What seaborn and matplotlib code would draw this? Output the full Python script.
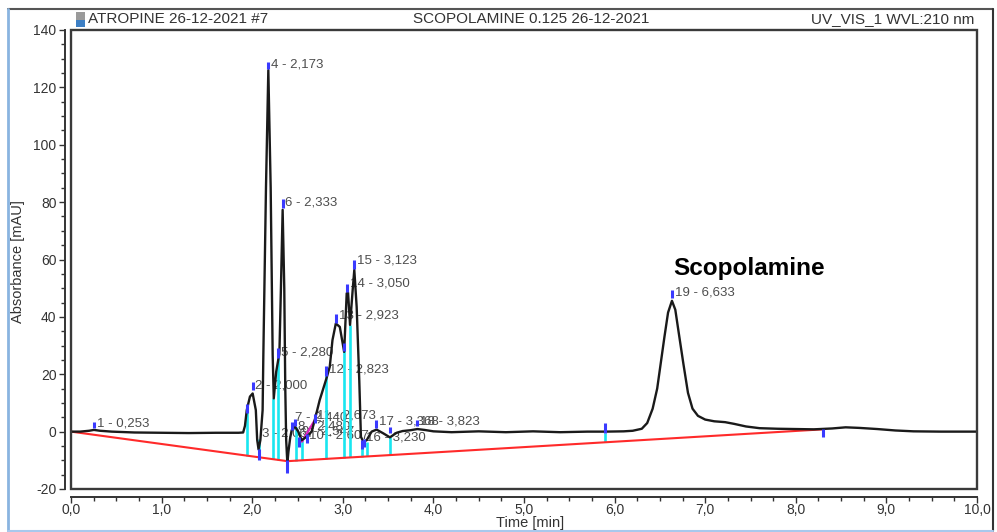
import numpy as np
import matplotlib
matplotlib.use("Agg")
import matplotlib.pyplot as plt
import seaborn as sns
from matplotlib.patches import Rectangle
from matplotlib.lines import Line2D
from matplotlib.ticker import MultipleLocator, FuncFormatter

# chromatogram trace (time [min], absorbance [mAU])
trace_time = [0.00, 0.10, 0.20, 0.253, 0.32, 0.45, 0.70, 1.00, 1.30, 1.60, 1.85,
              1.90, 1.92, 1.94, 1.975, 2.005, 2.04, 2.055, 2.07, 2.09, 2.115,
              2.123, 2.152, 2.178, 2.204, 2.226, 2.238, 2.265, 2.29, 2.30, 2.317,
              2.336, 2.354, 2.365, 2.375, 2.388, 2.40, 2.42, 2.436, 2.47, 2.51,
              2.546, 2.60, 2.656, 2.69, 2.745, 2.819, 2.856, 2.886, 2.923, 2.967,
              3.015, 3.043, 3.058, 3.08, 3.109, 3.127, 3.153, 3.182, 3.20, 3.226,
              3.263, 3.318, 3.373, 3.447, 3.52, 3.594, 3.66, 3.75, 3.823, 3.90,
              4.00, 4.20, 4.50, 4.80, 5.10, 5.40, 5.70, 5.90, 6.10, 6.20,
              6.30, 6.36, 6.42, 6.47, 6.51, 6.55, 6.59, 6.633, 6.67, 6.71,
              6.76, 6.81, 6.86, 6.92, 7.00, 7.10, 7.22, 7.32, 7.45, 7.60,
              7.80, 8.00, 8.20, 8.40, 8.55, 8.70, 8.90, 9.10, 9.30, 9.60, 10.0]
trace_abs = [0.0, 0.0, 0.3, 0.6, 0.3, 0.0, -0.3, -0.4, -0.5, -0.4, -0.4,
             -0.3, 2.0, 7.5, 12.2, 13.3, 7.5, -2.9, -6.2, -3.0, 7.5,
             26.7, 84.9, 126.0, 84.9, 26.7, 11.6, 20.9, 25.5, 27.0, 50.0,
             77.3, 50.0, 15.3, -3.0, -11.0, -7.0, -2.0, 0.5, 1.9, -0.1,
             -3.0, -1.8, 0.0, 4.0, 11.0, 18.5, 22.6, 31.9, 37.7, 36.5,
             27.8, 48.2, 48.4, 37.2, 49.4, 56.4, 43.5, 17.7, -1.8, -3.5,
             -3.0, 0.0, 0.7, -0.6, -2.0, -0.4, 0.2, 0.5, 0.9, 0.6,
             0.1, -0.2, 0.1, -0.2, 0.1, -0.2, 0.0, 0.0, 0.1, 0.3,
             1.0, 3.0, 8.0, 15.0, 24.0, 33.0, 41.5, 45.6, 42.5, 34.0,
             23.5, 13.5, 8.0, 5.5, 4.2, 3.6, 3.3, 2.7, 1.8, 1.2,
             1.0, 0.9, 0.8, 1.1, 1.5, 1.3, 0.9, 0.4, 0.1, 0.0, 0.0]

# integration baseline (red)
baseline_time = [0.0, 2.39, 8.3]
baseline_abs = [0.0, -10.3, 0.8]

# local baseline (magenta)
local_base_time = [2.55, 2.69]
local_base_abs = [-3.5, 4.0]

# peak delimiters (cyan), top value on the trace
delim_time = [1.94, 2.08, 2.235, 2.29, 2.478, 2.545, 2.82, 3.017, 3.08, 3.215, 3.265, 3.52, 5.89]
delim_top = [7.5, -2.5, 11.6, 25.5, 1.5, -3.0, 20.0, 28.5, 37.2, -4.0, -3.5, -2.0, -0.5]

# blue markers (time, low, high)
marker_time = [0.253, 1.94, 2.005, 2.075, 2.178, 2.29, 2.336, 2.388, 2.44, 2.47, 2.52,
               2.60, 2.69, 2.82, 2.923, 3.017, 3.05, 3.127, 3.21, 3.23, 3.368, 3.52,
               3.823, 5.89, 6.633, 8.3]
marker_lo = [1.2, 6.5, 14.5, -10.0, 126.5, 25.5, 78.0, -14.5, 0.5, 1.9, -5.5,
             -4.0, 3.0, 19.5, 38.0, 28.0, 48.5, 56.8, -6.0, -5.5, 1.3, -0.5,
             1.8, -0.5, 46.6, -2.0]
marker_hi = [3.4, 9.5, 17.2, -6.0, 129.0, 29.0, 81.0, -10.0, 3.5, 4.5, -2.0,
             -1.0, 6.0, 23.0, 41.0, 31.0, 51.5, 60.0, -3.0, -2.5, 4.0, 1.5,
             4.0, 3.0, 49.4, 0.8]

# peak labels
peak_label = ["1 - 0,253", "2 - 2,000", "3 - 2,067", "4 - 2,173", "5 - 2,280",
              "6 - 2,333", "7 - 2,440", "8 - 2,480", "9 - 2,547", "10 - 2,607",
              "11 - 2,673", "12 - 2,823", "13 - 2,923", "14 - 3,050", "15 - 3,123",
              "16 - 3,230", "17 - 3,368", "18 - 3,823", "19 - 6,633"]
peak_label_time = [0.253, 2.005, 2.08, 2.178, 2.29, 2.336, 2.44, 2.47, 2.52, 2.60,
                   2.69, 2.823, 2.923, 3.05, 3.127, 3.23, 3.368, 3.823, 6.633]
peak_label_abs = [2.8, 16.0, -0.7, 128.0, 27.5, 80.0, 4.8, 1.8, 0.2, -1.5,
                  5.5, 21.5, 40.5, 51.5, 59.5, -2.0, 3.5, 3.7, 48.5]

W, H = 997, 532

sns.set_theme(style="white")
plt.rcParams['font.family'] = ['Liberation Sans', 'DejaVu Sans']

fig = plt.figure(figsize=(W / 100, H / 100), dpi=100)
ax = fig.add_axes([71 / W, 1 - 489 / H, (977 - 71) / W, (489 - 30) / H])

sns.lineplot(x=baseline_time, y=baseline_abs, ax=ax, color='#ff2a2a', lw=1.5,
             sort=False, estimator=None, zorder=3)
sns.lineplot(x=local_base_time, y=local_base_abs, ax=ax, color='#e020c0', lw=1.6,
             sort=False, estimator=None, zorder=3)
delim_bottom = np.interp(delim_time, baseline_time, baseline_abs)
ax.vlines(delim_time, delim_bottom, delim_top, color='#19e6f0', lw=1.9, zorder=2)
sns.lineplot(x=trace_time, y=trace_abs, ax=ax, color='#1a1a1a', lw=1.7,
             sort=False, estimator=None, zorder=4)
ax.vlines(marker_time, marker_lo, marker_hi, color='#3a3aff', lw=2.2, zorder=5)

for txt, t, a in zip(peak_label, peak_label_time, peak_label_abs):
    ax.text(t + 0.03, a, txt, fontsize=9.5, color='#4d4d4d', va='center', ha='left', zorder=1)

ax.text(6.65, 57, "Scopolamine", fontsize=17.5, fontweight='bold', color='black',
        ha='left', va='center')

ax.set_xlim(0, 10)
ax.set_ylim(-20, 140)
ax.xaxis.set_major_locator(MultipleLocator(1))
ax.xaxis.set_minor_locator(MultipleLocator(0.25))
ax.yaxis.set_major_locator(MultipleLocator(20))
ax.yaxis.set_minor_locator(MultipleLocator(5))
ax.xaxis.set_major_formatter(FuncFormatter(lambda v, p: f"{v:.1f}".replace('.', ',')))
ax.yaxis.set_major_formatter(FuncFormatter(lambda v, p: f"{int(round(v))}"))
ax.tick_params(which='major', length=4, width=1, direction='out', colors='#333333',
               labelsize=10, left=True, bottom=True)
ax.tick_params(axis='y', which='major', pad=2)
ax.tick_params(axis='x', which='major', pad=0.5)
ax.tick_params(which='minor', length=3, width=1, direction='out', colors='#333333',
               left=True, bottom=True)
for lab in ax.get_xticklabels() + ax.get_yticklabels():
    lab.set_color('#333333')

for side in ['top', 'right']:
    ax.spines[side].set_visible(False)
ax.spines['left'].set_position(('outward', 4.5))
ax.spines['bottom'].set_position(('outward', 5.5))
for side in ['left', 'bottom']:
    ax.spines[side].set_color('#333333')
    ax.spines[side].set_linewidth(1.4)
ax.add_patch(Rectangle((0, 0), 1, 1, transform=ax.transAxes, fill=False,
                       ec='#3a3a3a', lw=1.7, clip_on=False, zorder=6))
ax.set_xlabel("")
ax.set_ylabel("")


def px(x, y):
    return x / W, 1 - y / H


# outer box of the report
for (x0, y0, x1, y1, c, w) in [(8, 9, 993, 9, '#555555', 1.5),
                               (993, 9, 993, 531, '#333333', 1.5),
                               (8, 9, 8, 531, '#8ab4e0', 2.0),
                               (8, 530.5, 993, 530.5, '#a8c8ec', 1.5)]:
    a, b = px(x0, y0)
    c2, d = px(x1, y1)
    fig.add_artist(Line2D([a, c2], [b, d], transform=fig.transFigure, color=c, lw=w))

# little header icon
fig.add_artist(Rectangle(px(76, 20), 9 / W, 8 / H, transform=fig.transFigure,
                         fc='#9a9a9a', ec='none'))
fig.add_artist(Rectangle(px(76, 27), 9 / W, 7 / H, transform=fig.transFigure,
                         fc='#3d7fc4', ec='none'))

hy = 1 - 19 / H
fig.text(88 / W, hy, "ATROPINE 26-12-2021 #7", fontsize=11, color='#333333', va='center')
fig.text(413 / W, hy, "SCOPOLAMINE 0.125 26-12-2021", fontsize=11, color='#333333', va='center')
fig.text(974 / W, hy, "UV_VIS_1 WVL:210 nm", fontsize=11, color='#333333', va='center', ha='right')

fig.text(18 / W, 1 - 262 / H, "Absorbance [mAU]", rotation=90, fontsize=10.5,
         color='#333333', va='center', ha='center')
fig.text(530 / W, 1 - 523.5 / H, "Time [min]", fontsize=10.5, color='#333333',
         va='center', ha='center')

fig.savefig("out.png", dpi=100)
